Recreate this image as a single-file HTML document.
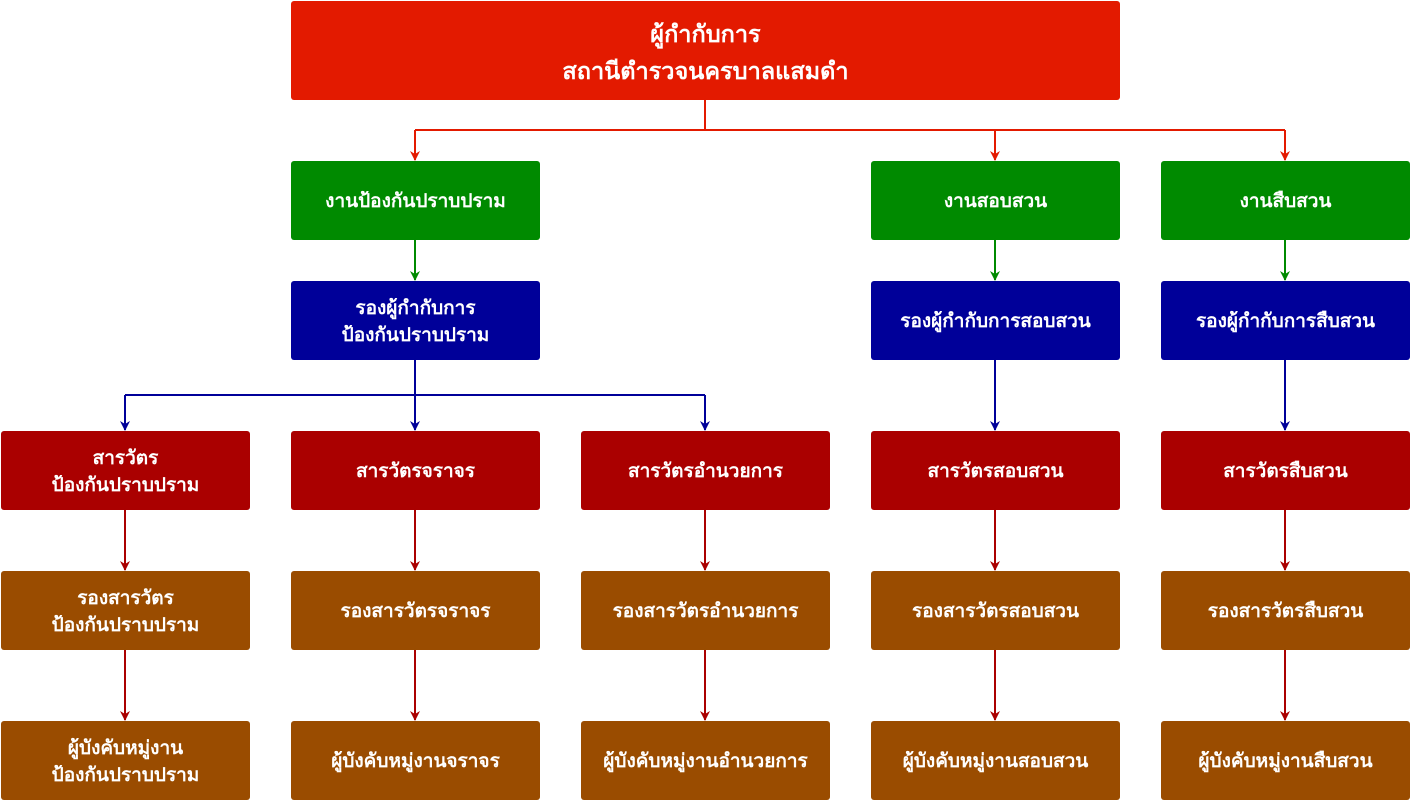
<!DOCTYPE html>
<html><head><meta charset="utf-8"><style>
body{margin:0;width:1410px;height:800px;background:#fff;position:relative;overflow:hidden;font-family:"Liberation Sans","DejaVu Sans",sans-serif;}
.b{position:absolute;width:249px;height:79px;box-sizing:border-box;padding-top:4px;border-radius:3px;color:#fff;font-weight:bold;font-size:19px;display:flex;align-items:center;justify-content:center;text-align:center;line-height:1.4;}
.r{background:#e31a00}.g{background:#008a00}.bl{background:#000099}.d{background:#aa0000}.o{background:#9a4c00}
svg{position:absolute;left:0;top:0}
</style></head><body>
<svg width="1410" height="800">
<defs>
<marker id="mr" markerWidth="10" markerHeight="10" refX="9" refY="5" orient="auto" markerUnits="userSpaceOnUse"><path d="M0,0 L10,5 L0,10 L3,5z" fill="#e31a00"/></marker>
<marker id="mg" markerWidth="10" markerHeight="10" refX="9" refY="5" orient="auto" markerUnits="userSpaceOnUse"><path d="M0,0 L10,5 L0,10 L3,5z" fill="#008a00"/></marker>
<marker id="mb" markerWidth="10" markerHeight="10" refX="9" refY="5" orient="auto" markerUnits="userSpaceOnUse"><path d="M0,0 L10,5 L0,10 L3,5z" fill="#000099"/></marker>
<marker id="md" markerWidth="10" markerHeight="10" refX="9" refY="5" orient="auto" markerUnits="userSpaceOnUse"><path d="M0,0 L10,5 L0,10 L3,5z" fill="#aa0000"/></marker>
</defs>
<g fill="none" stroke-width="2">
<path d="M705,100V130M415,130H1285" stroke="#e31a00"/>
<g stroke="#e31a00" marker-end="url(#mr)"><path d="M415,130V160"/><path d="M995,130V160"/><path d="M1285,130V160"/></g>
<g stroke="#008a00" marker-end="url(#mg)"><path d="M415,240V280"/><path d="M995,240V280"/><path d="M1285,240V280"/></g>
<path d="M415,360V395M125,395H705" stroke="#000099"/>
<g stroke="#000099" marker-end="url(#mb)"><path d="M125,395V430"/><path d="M415,395V430"/><path d="M705,395V430"/><path d="M995,360V430"/><path d="M1285,360V430"/></g>
<g stroke="#aa0000" marker-end="url(#md)">
<path d="M125,510V570"/><path d="M415,510V570"/><path d="M705,510V570"/><path d="M995,510V570"/><path d="M1285,510V570"/>
<path d="M125,650V720"/><path d="M415,650V720"/><path d="M705,650V720"/><path d="M995,650V720"/><path d="M1285,650V720"/>
</g>
</g></svg>
<div class="b r" style="left:291px;top:1px;width:829px;height:99px;font-size:23.5px;line-height:1.55">ผู้กำกับการ<br>สถานีตำรวจนครบาลแสมดำ</div>
<div class="b g" style="left:291px;top:161px">งานป้องกันปราบปราม</div>
<div class="b g" style="left:871px;top:161px">งานสอบสวน</div>
<div class="b g" style="left:1161px;top:161px">งานสืบสวน</div>
<div class="b bl" style="left:291px;top:281px">รองผู้กำกับการ<br>ป้องกันปราบปราม</div>
<div class="b bl" style="left:871px;top:281px">รองผู้กำกับการสอบสวน</div>
<div class="b bl" style="left:1161px;top:281px">รองผู้กำกับการสืบสวน</div>
<div class="b d" style="left:1px;top:431px">สารวัตร<br>ป้องกันปราบปราม</div>
<div class="b d" style="left:291px;top:431px">สารวัตรจราจร</div>
<div class="b d" style="left:581px;top:431px">สารวัตรอำนวยการ</div>
<div class="b d" style="left:871px;top:431px">สารวัตรสอบสวน</div>
<div class="b d" style="left:1161px;top:431px">สารวัตรสืบสวน</div>
<div class="b o" style="left:1px;top:571px">รองสารวัตร<br>ป้องกันปราบปราม</div>
<div class="b o" style="left:291px;top:571px">รองสารวัตรจราจร</div>
<div class="b o" style="left:581px;top:571px">รองสารวัตรอำนวยการ</div>
<div class="b o" style="left:871px;top:571px">รองสารวัตรสอบสวน</div>
<div class="b o" style="left:1161px;top:571px">รองสารวัตรสืบสวน</div>
<div class="b o" style="left:1px;top:721px">ผู้บังคับหมู่งาน<br>ป้องกันปราบปราม</div>
<div class="b o" style="left:291px;top:721px">ผู้บังคับหมู่งานจราจร</div>
<div class="b o" style="left:581px;top:721px">ผู้บังคับหมู่งานอำนวยการ</div>
<div class="b o" style="left:871px;top:721px">ผู้บังคับหมู่งานสอบสวน</div>
<div class="b o" style="left:1161px;top:721px">ผู้บังคับหมู่งานสืบสวน</div>
</body></html>
